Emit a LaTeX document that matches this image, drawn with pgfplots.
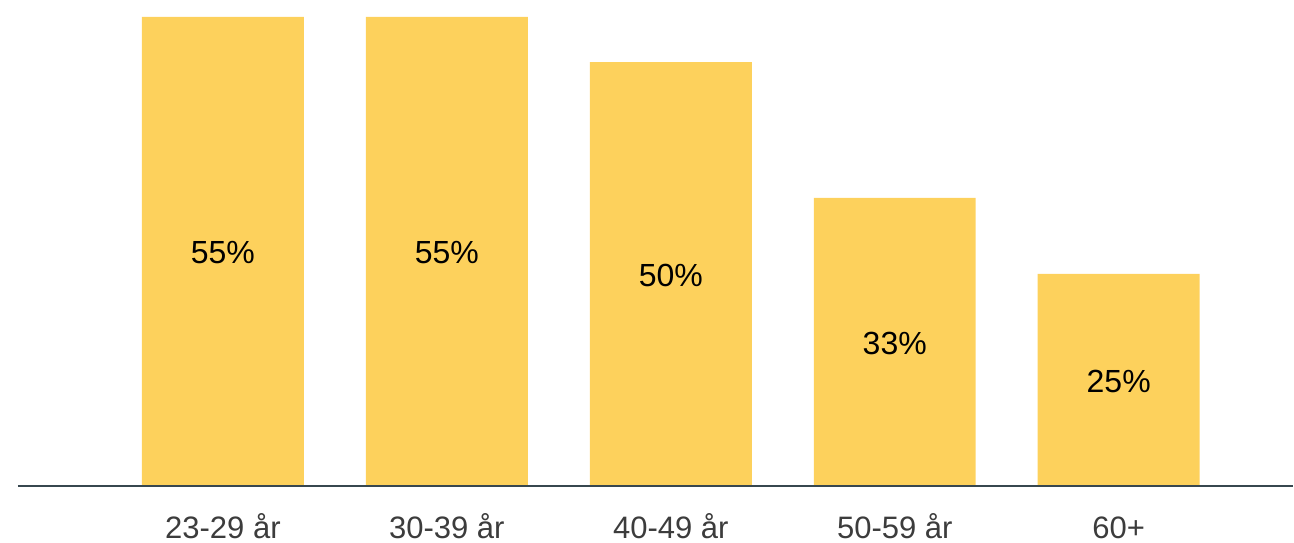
\documentclass[border=0pt]{standalone}
\usepackage{pgfplots}
\pgfplotsset{compat=1.18}
\usepackage{pgfplotstable}
\usepackage{fontspec}
\setmainfont{Liberation Sans}
\definecolor{baryellow}{HTML}{FDD15C}
\definecolor{axisgray}{HTML}{37474F}
\definecolor{labelgray}{HTML}{3C3C3C}
\pgfplotstableread{
x y label
0 55.2 55
1 55.2 55
2 49.9 50
3 33.9 33
4 24.95 25
}\datatable
\begin{document}
\begin{tikzpicture}
\begin{axis}[name=ax, scale only axis, width=1275pt, height=486pt,
  xmin=-0.915, xmax=4.777, ymin=0, ymax=57.2,
  axis x line=bottom, axis y line=none,
  axis line style={axisgray, line width=2.6pt, -},
  axis on top,
  xtick={0,1,2,3,4},
  xticklabels={23-29 år,30-39 år,40-49 år,50-59 år,60+},
  major tick length=0pt,
  xticklabel style={font=\fontsize{31}{37}\selectfont, text=labelgray, anchor=base, inner sep=0pt, yshift=-53pt},
  ytick=\empty, clip=false]
\addplot[ybar, bar width=162pt, bar shift=0pt, fill=baryellow, draw=none] table[x=x, y=y] {\datatable};
\addplot[draw=none, mark=none, only marks, point meta=explicit symbolic,
  nodes near coords={\pgfplotspointmeta\%},
  nodes near coords style={anchor=center, font=\fontsize{32}{38}\selectfont, text=black, inner sep=0pt, yshift=-1.5pt}]
  table[x=x, y expr=\thisrow{y}/2, meta=label] {\datatable};
\end{axis}
\path ([shift={(-18pt,-57pt)}]ax.south west) rectangle ([shift={(1pt,0pt)}]ax.north east);
\end{tikzpicture}
\end{document}
